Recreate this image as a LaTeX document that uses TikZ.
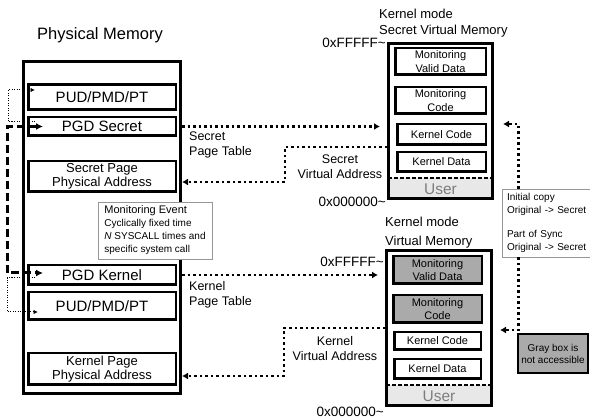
\documentclass[tikz,border=0pt]{standalone}
\usepackage{fontspec}
\setmainfont{Liberation Sans}
\usepackage{tikz}
\usetikzlibrary{arrows.meta}
\usetikzlibrary{shapes}
\definecolor{lockgray}{RGB}{170,170,170}
\definecolor{usergray}{RGB}{232,232,232}
\definecolor{usertext}{RGB}{125,125,125}
\definecolor{notegray}{RGB}{150,150,150}
\newcommand{\fsz}[2]{\fontsize{#1}{#2}\selectfont}
\tikzstyle{membox} = [draw, line width=3pt, inner sep=0pt]
\tikzstyle{tablebox} = [draw, line width=2.5pt, fill=white, inner sep=0pt, minimum width=147.5pt, font=\fsz{15}{17}]
\tikzstyle{addrbox} = [tablebox, align=center, font=\fsz{13}{14.5}]
\tikzstyle{vmpart} = [draw, line width=2.5pt, fill=white, inner sep=0pt, align=center, font=\fsz{11}{13.5}]
\tikzstyle{lockpart} = [vmpart, fill=lockgray]
\tikzstyle{userpart} = [fill=usergray, inner sep=0pt, text=usertext, font=\fsz{15.5}{17}]
\tikzstyle{infobox} = [draw=notegray, line width=0.8pt, fill=white, inner sep=0pt, align=left, font=\fsz{10}{12.3}]
\tikzstyle{tablelabel} = [inner sep=0pt, align=left, font=\fsz{12.5}{15}]
\tikzstyle{titlelabel} = [inner sep=0pt, anchor=west, align=left, font=\fsz{13}{16}]
\tikzstyle{hexlabel} = [inner sep=0pt, anchor=east, font=\fsz{13.5}{15}]
\tikzstyle{ptr} = [line width=2.5pt, dash pattern=on 2.5pt off 3pt, -{Latex[length=6pt,width=7pt]}]
\tikzstyle{pgdlink} = [line width=3pt, dash pattern=on 8pt off 4pt, {Latex[length=7pt,width=7pt]}-{Latex[length=7pt,width=7pt]}]
\tikzstyle{lowlink} = [line width=1pt, dash pattern=on 1pt off 1.5pt, -{Latex[length=4.5pt,width=4.5pt]}]
\tikzstyle{userline} = [line width=1.5pt, dash pattern=on 4pt off 2pt]

\begin{document}
\begin{tikzpicture}[x=1pt, y=-1pt]
	\useasboundingbox (0,0) rectangle (590,419);
	% -------------- Physical memory --------------
	\node[font=\fsz{16.5}{19}] (physTitle) at (100,35) {Physical Memory};
	\node[membox, minimum width=157pt, minimum height=332pt] (pm) at (102,227.5) {};
	\node[tablebox, minimum height=25pt]   (pudS) at (102,97)    {PUD/PMD/PT};
	\node[tablebox, minimum height=18.5pt] (pgdS) at (102,126.5) {PGD Secret};
	\node[addrbox,  minimum height=30.5pt] (spa)  at (102,176.5) {Secret Page\\Physical Address};
	\node[tablebox, minimum height=19.5pt] (pgdK) at (102,275)   {PGD Kernel};
	\node[tablebox, minimum height=27.5pt] (pudK) at (102,306)   {PUD/PMD/PT};
	\node[addrbox,  minimum height=31.5pt] (kpa)  at (102,369)   {Kernel Page\\Physical Address};
	\node[infobox, minimum width=114pt, minimum height=57pt, font=\fsz{10}{13}] (event) at (155,230.5)
		{{\fsz{11}{13}Monitoring Event}\\Cyclically fixed time\\\textit{N} SYSCALL times and\\specific system call};
	% -------------- Secret virtual memory --------------
	\node[titlelabel] (svmTitle) at (379,23.5) {Kernel mode\\Secret Virtual Memory};
	\node[hexlabel] (sTop) at (386,43)  {0xFFFFF\textasciitilde};
	\node[hexlabel] (sBot) at (386,202) {0x000000\textasciitilde};
	\node[userpart, minimum width=104pt, minimum height=22pt] (sUser) at (440.5,189) {User};
	\draw[userline] (sUser.north west) -- (sUser.north east);
	\node[membox, minimum width=104pt, minimum height=155pt] (svm) at (440.5,121) {};
	\node[vmpart, minimum width=90.5pt, minimum height=26.5pt] (sValid) at (440.5,61.5)  {Monitoring\\Valid Data};
	\node[vmpart, minimum width=90.5pt, minimum height=26.5pt] (sMon)   at (440.5,100.5) {Monitoring\\Code};
	\node[vmpart, minimum width=88.5pt, minimum height=20.5pt] (sCode)  at (441.5,134.5) {Kernel Code};
	\node[vmpart, minimum width=88.5pt, minimum height=19.5pt] (sData)  at (441.5,162)   {Kernel Data};
	% -------------- Kernel virtual memory --------------
	\node[titlelabel] (kvmTitle) at (385,232.5) {Kernel mode\\[3pt]Virtual Memory};
	\node[hexlabel] (kTop) at (384,262) {0xFFFFF\textasciitilde};
	\node[hexlabel] (kBot) at (384,412) {0x000000\textasciitilde};
	\node[userpart, minimum width=105pt, minimum height=22pt] (kUser) at (439,396) {User};
	\draw[userline] (kUser.north west) -- (kUser.north east);
	\node[membox, minimum width=105pt, minimum height=155pt] (kvm) at (439,328) {};
	\node[lockpart, minimum width=88.5pt, minimum height=27.5pt] (kValid) at (437.5,270) {Monitoring\\Valid Data};
	\node[lockpart, minimum width=88.5pt, minimum height=27.5pt] (kMon)   at (437.5,309) {Monitoring\\Code};
	\node[vmpart,   minimum width=86.5pt, minimum height=17.5pt] (kCode)  at (437.5,341) {Kernel Code};
	\node[vmpart,   minimum width=86.5pt, minimum height=19.5pt] (kData)  at (437.5,369) {Kernel Data};
	% -------------- Notes --------------
	\node[infobox, minimum width=100pt, minimum height=68pt, text width=90pt, inner xsep=5pt] (sync) at (552,223)
		{Initial copy\\Original -> Secret\\[12.3pt]Part of Sync\\Original -> Secret};
	\node[lockpart, line width=2pt, minimum width=70pt, minimum height=39pt, font=\fsz{10}{12}] (legend) at (553,353.5)
		{Gray box is\\not accessible};
	% -------------- Labels --------------
	\node[tablelabel, anchor=west] (sPtLabel) at (189,144.5) {Secret\\Page Table};
	\node[tablelabel, align=center] (sVaLabel) at (340,166.5) {Secret\\Virtual Address};
	\node[tablelabel, anchor=west] (kPtLabel) at (189,295) {Kernel\\Page Table};
	\node[tablelabel, align=center] (kVaLabel) at (335,349) {Kernel\\Virtual Address};
	% -------------- Pointers --------------
	\draw[ptr] (pgdS -| pm.east) -- ([xshift=-7pt]pgdS -| svm.west);
	\draw[ptr] ([yshift=-26pt]svm.west) -- ++(-102,0) |- ([yshift=-5.5pt]spa.east -| pm.east);
	\draw[ptr] (pgdK -| pm.east) -- ([xshift=-7pt]pgdK -| kvm.west);
	\draw[ptr] (kvm.west) -- ++(-101,0) |- ([yshift=-7pt]kpa.east -| pm.east);
	\draw[ptr] ([xshift=17pt]sync.north west) |- ([xshift=9pt, yshift=-3pt]svm.east);
	\draw[ptr] ([xshift=17pt]sync.south west) |- ([xshift=7pt, yshift=-2pt]kvm.east);
	\draw[pgdlink] ([xshift=16pt]pgdS.west) -- ++(-36,0) |- ([xshift=16pt, yshift=2pt]pgdK.west);
	\draw[lowlink] ([xshift=8pt, yshift=4.5pt]pgdS.west) -- ++(-27,0) |- ([xshift=8pt, yshift=7pt]pudS.west);
	\draw[lowlink] ([xshift=8pt, yshift=-3pt]pgdK.west) -- ++(-28,0) |- ([xshift=11pt, yshift=-6pt]pudK.west);
\end{tikzpicture}
\end{document}
